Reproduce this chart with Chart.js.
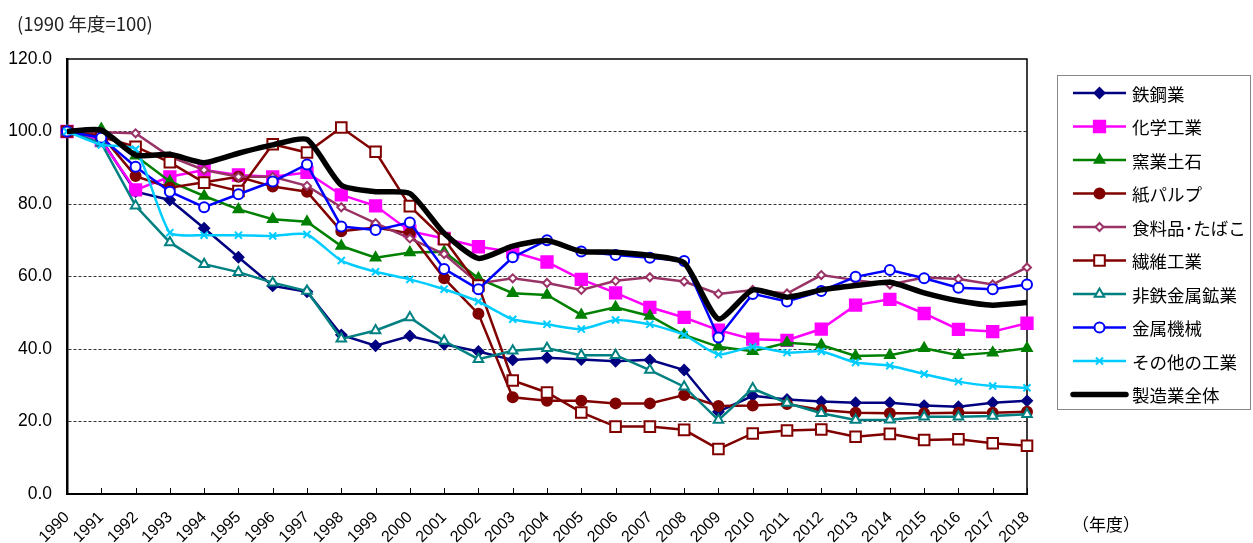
<!DOCTYPE html>
<html><head><meta charset="utf-8">
<script src="https://cdn.jsdelivr.net/npm/chart.js@4.4.1/dist/chart.umd.min.js"></script>
<style>html,body{margin:0;padding:0;background:#fff}#wrap{width:1253px;height:543px;position:relative}</style>
</head><body><div id="wrap"><canvas id="c" width="1253" height="543"></canvas></div>
<script>
const years = ['1990','1991','1992','1993','1994','1995','1996','1997','1998','1999','2000','2001','2002','2003','2004','2005','2006','2007','2008','2009','2010','2011','2012','2013','2014','2015','2016','2017','2018'];
const yTicks = [0, 20, 40, 60, 80, 100, 120];
const names = ['鉄鋼業','化学工業','窯業土石','紙パルプ','食料品･たばこ','繊維工業','非鉄金属鉱業','金属機械','その他の工業','製造業全体'];
const steel      = [100, 97.8, 83.4, 81.1, 73.3, 65.3, 57.4, 55.8, 43.9, 40.9, 43.6, 41.3, 39.3, 37.0, 37.6, 37.1, 36.6, 37.0, 34.2, 22.7, 27.1, 26.1, 25.5, 25.2, 25.2, 24.4, 24.1, 25.2, 25.7];
const chemical   = [100, 97.5, 83.9, 87.5, 89.4, 88.0, 87.5, 88.7, 82.5, 79.5, 72.5, 70.5, 68.2, 66.8, 64.0, 59.2, 55.5, 51.5, 48.7, 45.2, 42.7, 42.4, 45.5, 52.1, 53.7, 49.8, 45.4, 44.8, 47.1];
const ceramics   = [100, 100.7, 93.3, 86.2, 82.2, 78.5, 75.8, 75.1, 68.4, 65.2, 66.6, 66.8, 59.5, 55.4, 54.9, 49.4, 51.5, 49.1, 43.9, 40.6, 39.4, 41.7, 41.1, 38.1, 38.3, 40.2, 38.3, 39.0, 40.2];
const paper      = [100, 99.0, 87.7, 84.5, 86.0, 87.5, 84.8, 83.4, 72.5, 73.5, 71.9, 59.5, 49.7, 26.7, 25.7, 25.7, 25.0, 25.0, 27.3, 24.3, 24.4, 24.8, 23.2, 22.4, 22.3, 22.3, 22.4, 22.4, 22.7];
const food       = [100, 99.8, 99.5, 93.1, 89.4, 87.5, 87.5, 85.0, 79.1, 74.7, 70.5, 66.2, 58.1, 59.5, 58.2, 56.3, 58.8, 59.8, 58.6, 55.2, 56.3, 55.3, 60.4, 59.0, 57.8, 59.7, 59.3, 57.8, 62.5];
const textile    = [100, 98.5, 95.8, 91.5, 85.9, 83.6, 96.5, 94.2, 101.1, 94.4, 79.4, 70.3, 57.5, 31.3, 28.0, 22.5, 18.6, 18.6, 17.7, 12.4, 16.7, 17.5, 17.8, 15.8, 16.6, 14.9, 15.1, 14.0, 13.3];
const nonferrous = [100, 96.8, 79.5, 69.4, 63.4, 61.2, 58.3, 56.0, 42.8, 45.1, 48.7, 42.2, 37.2, 39.5, 40.2, 38.3, 38.3, 34.2, 29.6, 20.4, 29.1, 25.1, 22.3, 20.4, 20.5, 21.3, 21.3, 21.5, 22.0];
const machinery  = [100, 98.3, 90.3, 83.4, 79.1, 82.7, 86.2, 90.9, 73.8, 72.8, 74.9, 62.1, 56.5, 65.3, 70.0, 66.9, 65.9, 65.2, 64.3, 43.2, 55.2, 53.1, 56.0, 59.9, 61.8, 59.5, 56.9, 56.5, 57.8];
const others     = [100, 96.3, 95.1, 72.1, 71.4, 71.4, 71.2, 71.6, 64.4, 61.3, 59.2, 56.5, 53.1, 48.2, 46.8, 45.5, 48.0, 46.8, 43.9, 38.5, 40.6, 39.0, 39.3, 36.3, 35.4, 33.1, 31.0, 29.8, 29.3];
const total      = [100, 100.4, 93.5, 93.7, 91.4, 94.0, 96.3, 97.8, 85.2, 83.4, 82.9, 71.9, 65.0, 68.4, 69.9, 66.9, 66.7, 65.8, 63.8, 48.3, 56.3, 54.3, 56.3, 57.5, 58.4, 55.5, 53.3, 52.1, 52.8];

const seriesData = [steel, chemical, ceramics, paper, food, textile, nonferrous, machinery, others, total];
const styles = [
  {c:'#000080', ps:'rectRot', r:5,   fill:'#000080'},
  {c:'#FF00FF', ps:'rect',    r:8,   fill:'#FF00FF'},
  {c:'#008000', ps:'triangle',r:5.5, fill:'#008000'},
  {c:'#800000', ps:'circle',  r:5,   fill:'#800000'},
  {c:'#993366', ps:'rectRot', r:4,   fill:'#FFFFFF'},
  {c:'#800000', ps:'rect',    r:7.5, fill:'#FFFFFF'},
  {c:'#008080', ps:'triangle',r:5.5, fill:'#FFFFFF'},
  {c:'#0000FF', ps:'circle',  r:5,   fill:'#FFFFFF'},
  {c:'#00CCFF', ps:'crossRot',r:5,   fill:'#00CCFF'},
  {c:'#000000', ps:false,     r:0,   fill:'#000000'}
];

const datasets = seriesData.map((d, i) => {
  const s = styles[i];
  const isTotal = i === 9;
  return {
    label: names[i], data: d,
    borderColor: s.c, backgroundColor: s.fill,
    borderWidth: isTotal ? 5.5 : 2.5,
    pointStyle: s.ps || 'circle', pointRadius: s.r,
    pointBorderColor: s.c, pointBackgroundColor: s.fill,
    pointBorderWidth: 2, tension: (isTotal || i === 8) ? 0.2 : 0,
    order: 10 - i, clip: false, fill: false
  };
});

const overlay = {
  id: 'overlay',
  beforeDatasetsDraw(chart) {
    const ctx = chart.ctx, a = chart.chartArea;
    ctx.save();
    ctx.strokeStyle = '#000'; ctx.lineWidth = 1.5;
    ctx.beginPath(); ctx.moveTo(a.left, a.top); ctx.lineTo(a.right, a.top); ctx.lineTo(a.right, a.bottom); ctx.stroke();
    const xs = chart.scales.x;
    ctx.lineWidth = 1;
    ctx.beginPath();
    years.forEach((y, i) => {
      const px = Math.round(xs.getPixelForTick(i)) + 0.5;
      ctx.moveTo(px, a.bottom); ctx.lineTo(px, a.bottom - 6);
    });
    ctx.stroke();
    ctx.restore();
  },
  afterDraw(chart) {
    const ctx = chart.ctx;
    ctx.save();
    ctx.fillStyle = '#222';
    ctx.font = '18.5px "Noto Sans CJK JP", sans-serif';
    ctx.textBaseline = 'middle'; ctx.textAlign = 'left';
    ctx.fillText('(1990 年度=100)', 17, 24);
    ctx.fillStyle = '#000';
    ctx.font = '17px "Noto Sans CJK JP", sans-serif';
    ctx.fillText('（年度）', 1072, 525);
    ctx.strokeStyle = '#888'; ctx.lineWidth = 1;
    ctx.strokeRect(1057.5, 75.5, 193, 334);
    const y0 = 93, dy = 33.5;
    chart.data.datasets.forEach((ds, i) => {
      const y = y0 + i * dy;
      ctx.save();
      ctx.strokeStyle = ds.borderColor; ctx.lineWidth = i === 9 ? 5.5 : 2.5;
      ctx.lineCap = i === 9 ? 'round' : 'butt';
      ctx.beginPath(); ctx.moveTo(1073, y); ctx.lineTo(1126, y); ctx.stroke();
      if (styles[i].ps) {
        ctx.fillStyle = ds.pointBackgroundColor; ctx.strokeStyle = ds.pointBorderColor; ctx.lineWidth = 2;
        Chart.helpers.drawPoint(ctx, {pointStyle: ds.pointStyle, radius: ds.pointRadius, borderWidth: 2, rotation: 0}, 1099.5, y);
      }
      ctx.restore();
      ctx.fillStyle = '#000';
      ctx.font = '17.5px "Noto Sans CJK JP", sans-serif';
      ctx.textAlign = 'left'; ctx.textBaseline = 'middle';
      ctx.fillText(ds.label, 1132, y + 1);
    });
    ctx.restore();
  }
};

new Chart(document.getElementById('c'), {
  type: 'line',
  data: { labels: years, datasets },
  options: {
    responsive: false, animation: false, devicePixelRatio: 1,
    layout: { padding: { left: 0, top: 59, right: 226, bottom: 0 } },
    plugins: { legend: { display: false }, tooltip: { enabled: false } },
    scales: {
      x: {
        offset: false,
        grid: { drawOnChartArea: false, drawTicks: false },
        border: { color: '#000', width: 2 },
        ticks: { color: '#000', font: { family: '"Liberation Sans", Arial, sans-serif', size: 16 }, minRotation: 45, maxRotation: 45, autoSkip: false, padding: 14 },
        afterFit(s) { s.height = 49; }
      },
      y: {
        min: 0, max: 120,
        afterBuildTicks(s) { s.ticks = yTicks.map(v => ({ value: v })); },
        grid: {
          color: (c) => (c.tick && (c.tick.value === 0 || c.tick.value === 120)) ? 'rgba(0,0,0,0)' : '#333',
          lineWidth: 1, drawTicks: false
        },
        border: { color: '#000', width: 2.5, dash: [3, 2] },
        ticks: { color: '#000', font: { family: '"Liberation Sans", Arial, sans-serif', size: 17.5 }, padding: 15, callback: (v) => Number(v).toFixed(1) },
        afterFit(s) { s.width = 67; }
      }
    }
  },
  plugins: [overlay]
});
</script></body></html>
